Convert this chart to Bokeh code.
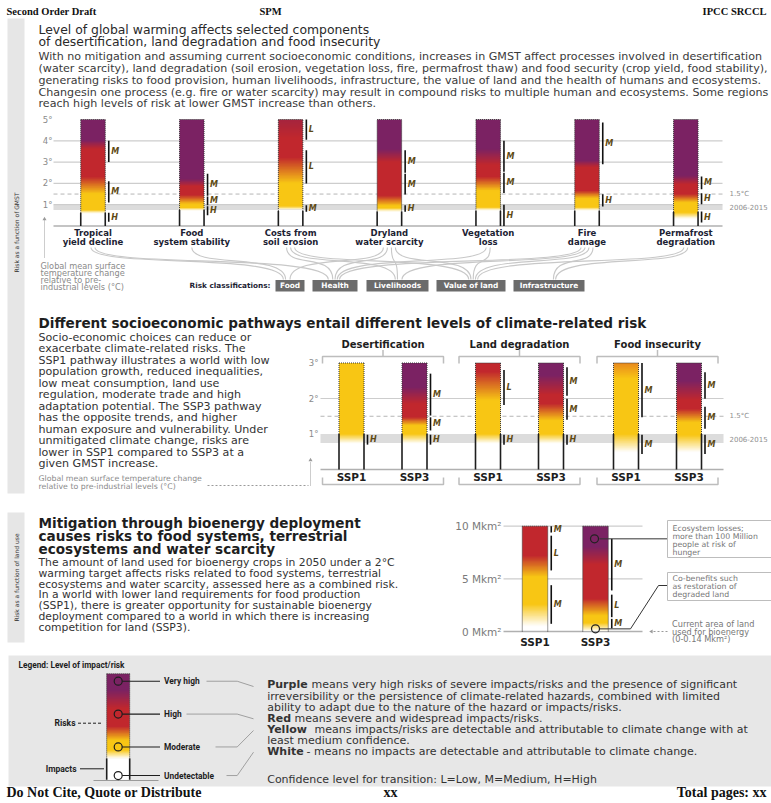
import numpy as np
from bokeh.plotting import figure
from bokeh.models import Range1d
from bokeh.core.properties import value
from bokeh.embed import file_html
from bokeh.resources import INLINE

# ------------------------------------------------------------------ colours
PURPLE = "#7b2263"
RED = "#c1272d"
DKRED = "#a3243f"
ORANGE = "#e8891d"
YELLOW = "#f8c614"
WHITE = "#ffffff"

# ------------------------------------------------------------------ panel 1 data (GMST, °C)
P1_LABELS = [("Tropical", "yield decline"), ("Food", "system stability"), ("Costs from", "soil erosion"),
             ("Dryland", "water scarcity"), ("Vegetation", "loss"), ("Fire", "damage"),
             ("Permafrost", "degradation")]
P1_TOP = 5.0
P1_STOPS = [
    [(5.0, PURPLE), (4.0, PURPLE), (3.6, RED), (2.3, RED), (1.5, YELLOW), (0.75, YELLOW), (0.6, WHITE)],
    [(5.0, PURPLE), (2.2, PURPLE), (1.85, RED), (1.45, RED), (1.02, YELLOW), (0.85, YELLOW), (0.74, WHITE)],
    [(5.0, DKRED), (4.1, RED), (3.2, RED), (2.0, YELLOW), (0.92, YELLOW), (0.78, WHITE)],
    [(5.0, PURPLE), (3.6, PURPLE), (3.0, RED), (1.42, RED), (0.95, YELLOW), (0.85, YELLOW), (0.68, WHITE)],
    [(5.0, PURPLE), (3.6, PURPLE), (2.85, RED), (2.3, RED), (1.65, YELLOW), (0.87, YELLOW), (0.74, WHITE)],
    [(5.0, PURPLE), (3.06, PURPLE), (2.75, RED), (1.65, RED), (1.3, YELLOW), (0.87, YELLOW), (0.74, WHITE)],
    [(5.0, PURPLE), (2.36, PURPLE), (1.96, RED), (1.49, RED), (1.1, YELLOW), (0.63, YELLOW), (0.35, WHITE)],
]
P1_IMPACT_TOP = [0.62, 0.75, 0.7, 0.68, 0.72, 0.72, 0.66]
P1_CONF = [
    [(4.0, 3.0, "M"), (2.1, 1.1, "M"), (0.62, 0.2, "H")],
    [(2.45, 1.42, "M"), (1.38, 0.97, "M"), (0.93, 0.5, "H")],
    [(5.0, 4.05, "L"), (3.56, 2.0, "L"), (0.98, 0.67, "M")],
    [(3.56, 2.5, "M"), (2.45, 1.48, "M"), (0.97, 0.67, "H")],
    [(4.0, 2.55, "M"), (2.5, 1.55, "M"), (1.0, 0.0, "H")],
    [(4.86, 2.9, "M"), (1.49, 0.92, "H")],
    [(2.32, 1.73, "M"), (1.54, 1.02, "H"), (0.68, 0.16, "H")],
]
P1_TICKS = [1, 2, 3, 4, 5]
P1_TICK_LABELS = ["1°", "2°", "3°", "4°", "5°"]
P1_GRID = [1, 2, 3, 4]
RECENT_BAND = (0.75, 1.0)      # 2006-2015
RECENT_LEVEL = 0.87
TARGET_LEVEL = 1.5
RISK_CLASSES = ["Food", "Health", "Livelihoods", "Value of land", "Infrastructure"]
P1_LINKS = [["Food", "Health"], ["Food"], ["Health", "Livelihoods", "Value of land"],
            ["Food", "Health", "Livelihoods", "Value of land"], ["Health", "Value of land"],
            ["Health", "Livelihoods", "Value of land", "Infrastructure"], ["Value of land", "Infrastructure"]]

# ------------------------------------------------------------------ panel 2 data (GMST, °C)
P2_GROUPS = ["Desertification", "Land degradation", "Food insecurity"]
P2_SCEN = ["SSP1", "SSP3"]
P2_TOP = 3.0
P2_STOPS = [
    [(3.0, YELLOW), (1.0, YELLOW), (0.74, WHITE)],
    [(3.0, PURPLE), (2.32, PURPLE), (1.85, RED), (1.47, RED), (1.24, YELLOW), (1.0, YELLOW), (0.74, WHITE)],
    [(3.0, RED), (2.75, RED), (1.95, YELLOW), (1.0, YELLOW), (0.74, WHITE)],
    [(3.0, PURPLE), (2.65, PURPLE), (2.1, RED), (1.85, RED), (1.38, YELLOW), (1.0, YELLOW), (0.74, WHITE)],
    [(3.0, ORANGE), (2.55, YELLOW), (1.0, YELLOW), (0.49, WHITE)],
    [(3.0, PURPLE), (2.5, PURPLE), (1.95, RED), (1.7, RED), (1.33, YELLOW), (0.97, YELLOW), (0.49, WHITE)],
]
P2_IMPACT_TOP = [1.0, 1.0, 1.0, 1.0, 1.0, 1.0]
P2_CONF = [
    [(0.98, 0.7, "H")],
    [(2.7, 1.52, "M"), (1.47, 1.1, "M"), (0.98, 0.7, "H")],
    [(2.8, 1.82, "L"), (0.98, 0.7, "H")],
    [(2.88, 2.08, "M"), (1.99, 1.4, "M"), (0.98, 0.7, "H")],
    [(3.0, 1.47, "M"), (0.98, 0.44, "M")],
    [(2.74, 1.99, "M"), (1.77, 1.15, "M"), (0.98, 0.44, "M")],
]
P2_TICKS = [1, 2, 3]
P2_TICK_LABELS = ["1°", "2°", "3°"]
P2_GRID = [2]

# ------------------------------------------------------------------ panel 3 data (land area, Mkm²)
P3_SCEN = ["SSP1", "SSP3"]
P3_TOP = 10.0
P3_STOPS = [
    [(10.0, RED), (7.2, RED), (5.2, YELLOW), (2.6, YELLOW), (0.5, WHITE)],
    [(10.0, PURPLE), (8.0, PURPLE), (6.3, RED), (3.1, RED), (1.5, YELLOW), (0.8, YELLOW), (0.05, WHITE)],
]
P3_CONF = [
    [(10.0, 9.4, "M"), (9.1, 5.8, "L"), (4.4, 0.73, "M")],
    [(8.8, 3.9, "M"), (3.5, 1.36, "L"), (1.2, 0.3, "M")],
]
P3_TICKS = [0, 5, 10]
P3_TICK_LABELS = ["0 Mkm²", "5 Mkm²", "10 Mkm²"]
P3_MARKS = [8.8, 0.25]
P3_NOTES = [["Ecosystem losses;", "more than 100 Million", "people at risk of", "hunger"],
            ["Co-benefits such", "as restoration of", "degraded land"]]
P3_CURRENT = ["Current area of land", "used for bioenergy", "(0-0.14 Mkm²)"]

# ------------------------------------------------------------------ legend data
LEG_STOPS = [(1.0, PURPLE), (0.84, PURPLE), (0.67, RED), (0.5, RED), (0.37, YELLOW), (0.28, YELLOW), (0.2, WHITE)]
LEG_IMPACT_TOP = 0.2
LEG_LEVELS = ["Very high", "High", "Moderate", "Undetectable"]
LEG_LEVEL_POS = [0.93, 0.62, 0.31, 0.04]

# ------------------------------------------------------------------ texts
P1_TITLE = ["Level of global warming affects selected components",
            "of desertification, land degradation and food insecurity"]
P1_BODY = [
    "With no mitigation and assuming current socioeconomic conditions, increases in GMST affect processes involved in desertification",
    "(water scarcity), land degradation (soil erosion, vegetation loss, fire, permafrost thaw) and food security (crop yield, food stability),",
    "generating risks to food provision, human livelihoods, infrastructure, the value of land and the health of humans and ecosystems.",
    "Changesin one process (e.g. fire or water scarcity) may result in compound risks to multiple human and ecosystems. Some regions",
    "reach high levels of risk at lower GMST increase than others.",
]
P2_TITLE = "Different socioeconomic pathways entail different levels of climate-related risk"
P2_BODY = [
    "Socio-economic choices can reduce or",
    "exacerbate climate-related risks. The",
    "SSP1 pathway illustrates a world with low",
    "population growth, reduced inequalities,",
    "low meat consumption, land use",
    "regulation, moderate trade and high",
    "adaptation potential. The SSP3 pathway",
    "has the opposite trends, and higher",
    "human exposure and vulnerability. Under",
    "unmitigated climate change, risks are",
    "lower in SSP1 compared to SSP3 at a",
    "given GMST increase.",
]
P3_TITLE = ["Mitigation through bioenergy deployment",
            "causes risks to food systems, terrestrial",
            "ecosystems and water scarcity"]
P3_BODY = [
    "The amount of land used for bioenergy crops in 2050 under a 2°C",
    "warming target affects risks related to food systems, terrestrial",
    "ecosystems and water scarcity, assessed here as a combined risk.",
    "In a world with lower land requirements for food production",
    "(SSP1), there is greater opportunity for sustainable bioenergy",
    "deployment compared to a world in which there is increasing",
    "competition for land (SSP3).",
]
GMST_NOTE = ["Global mean surface", "temperature change", "relative to pre-", "industrial levels (°C)"]
GMST_NOTE2 = ["Global mean surface temperature change", "relative to pre-industrial levels (°C)"]
LEG_TEXT = [
    ("Purple", "means very high risks of severe impacts/risks and the presence of significant"),
    ("", "irreversibility or the persistence of climate-related hazards, combined with limited"),
    ("", "ability to adapt due to the nature of the hazard or impacts/risks."),
    ("Red", "means severe and widespread impacts/risks."),
    ("Yellow", "means impacts/risks are detectable and attributable to climate change with at"),
    ("", "least medium confidence."),
    ("White", "- means no impacts are detectable and attributable to climate change."),
]
LEG_CONF = "Confidence level  for transition: L=Low, M=Medium, H=High"

# ------------------------------------------------------------------ figure (data units = page pixels)
FIG_W, FIG_H = 771, 803
p = figure(width=FIG_W, height=FIG_H, output_backend="svg", toolbar_location=None,
           x_range=Range1d(0, FIG_W), y_range=Range1d(FIG_H, 0),
           x_axis_location=None, y_axis_location=None, min_border=0)
p.grid.visible = False
p.outline_line_color = None
p.background_fill_color = "white"
p.border_fill_color = "white"


def make_scale(v_a, y_a, v_b, y_b):
    k = (y_b - y_a) / (v_b - v_a)
    v_top = v_a + (0 - y_a) / k
    v_bot = v_a + (FIG_H - y_a) / k
    return Range1d(start=v_bot, end=v_top), (lambda v: y_a + (v - v_a) * k)


r1, px1 = make_scale(0, 225.5, 5, 119.0)
r2, px2 = make_scale(0, 469.0, 3, 362.5)
r3, px3 = make_scale(0, 631.0, 10, 525.7)
r4, px4 = make_scale(0, 779.3, 1, 673.3)
p.extra_y_ranges = {"g1": r1, "g2": r2, "lu": r3, "lg": r4}

SANS = "DejaVu Sans"
CONF_COLOR = "#5e4a14"


def txt(x, y, s, size, color="#333333", font=SANS, style="normal", align="left",
        baseline="middle", angle=0.0, rng="default"):
    xs = x if isinstance(x, list) else [x]
    ys = y if isinstance(y, list) else [y]
    ss = s if isinstance(s, list) else [s]
    if len(xs) == 1 and len(ss) > 1:
        xs = xs * len(ss)
    if len(ys) == 1 and len(ss) > 1:
        ys = ys * len(ss)
    p.text(x=xs, y=ys, text=ss, text_font=value(font), text_font_size=f"{size}px",
           text_font_style=style, text_color=color, text_align=align, text_baseline=baseline,
           angle=angle, y_range_name=rng)


def gradient_bar(cx, w, stops, rng, rows):
    lv = np.array([s[0] for s in stops], float)[::-1]
    rgb = np.array([[int(c[i:i + 2], 16) for i in (1, 3, 5)] for _, c in stops], float)[::-1]
    lo, hi = lv[0], lv[-1]
    mids = lo + (np.arange(rows) + 0.5) * (hi - lo) / rows
    img = np.empty((rows, 1), dtype=np.uint32)
    view = img.view(dtype=np.uint8).reshape((rows, 1, 4))
    for k in range(3):
        view[:, 0, k] = np.round(np.interp(mids, lv, rgb[:, k])).astype(np.uint8)
    view[:, 0, 3] = 255
    p.image_rgba(image=[img], x=cx - w / 2, y=lo, dw=w, dh=hi - lo, y_range_name=rng)


def bar_frame(cx, w, top, impact_top, rng):
    l, r = cx - w / 2, cx + w / 2
    p.multi_line(xs=[[l, l], [r, r], [l, r]], ys=[[impact_top, top], [impact_top, top], [top, top]],
                 line_color="#3a3a3a", line_dash="1 1", line_width=1, y_range_name=rng)
    if impact_top > 0:
        p.segment(x0=[l, r], y0=[0, 0], x1=[l, r], y1=[impact_top, impact_top],
                  line_color="#1e1e1e", line_width=1.6, y_range_name=rng)


def confidence(cx, w, items, rng, size=8):
    x = cx + w / 2 + 3.5
    tops = [a for a, b, s in items]
    bots = [b for a, b, s in items]
    lets = [s for a, b, s in items]
    n = len(items)
    p.segment(x0=[x] * n, y0=tops, x1=[x] * n, y1=bots, line_color="#111111",
              line_width=1.6, y_range_name=rng)
    p.text(x=[x + 2.5] * n, y=[(a + b) / 2 for a, b in zip(tops, bots)], text=lets,
           text_font=value(SANS), text_font_size=f"{size}px", text_font_style="bold italic",
           text_color=CONF_COLOR, text_align="left", text_baseline="middle", y_range_name=rng)


# ------------------------------------------------------------------ page furniture
SERIF = "Liberation Serif"
txt(6, 10.5, "Second Order Draft", 10.5, "#111111", SERIF, "bold")
txt(270, 10.5, "SPM", 10.5, "#111111", SERIF, "bold", "center")
txt(766, 10.5, "IPCC SRCCL", 10.5, "#111111", SERIF, "bold", "right")
txt(6, 792, "Do Not Cite, Quote or Distribute", 14, "#111111", SERIF, "bold", baseline="alphabetic")
txt(390, 792, "xx", 14, "#111111", SERIF, "bold", "center", baseline="alphabetic")
txt(766, 792, "Total pages: xx", 14, "#111111", SERIF, "bold", "right", baseline="alphabetic")

# side strips & legend background
p.quad(left=[7, 7], right=[24, 24], top=[18, 512], bottom=[493, 642], fill_color="#e6e6e6", line_color=None)
p.quad(left=8, right=FIG_W, top=655, bottom=786, fill_color="#e7e7e7", line_color=None)
txt(15.5, 232, "Risk as a function of GMST", 6, "#333333", angle=np.pi / 2, align="center")
txt(15.5, 577, "Risk as a function of land use", 6, "#333333", angle=np.pi / 2, align="center")

# ------------------------------------------------------------------ panel 1
txt(38, [29, 41], P1_TITLE, 12.4, "#2a2a2a")
txt(38, [56, 68, 79.5, 91.5, 103], P1_BODY, 11.1, "#3a3a3a")

P1_X0, P1_X1 = 53, 722
p.quad(left=P1_X0, right=P1_X1, bottom=RECENT_BAND[0], top=RECENT_BAND[1], fill_color="#dcdcdc",
       line_color=None, y_range_name="g1")
p.segment(x0=[P1_X0] * len(P1_GRID), x1=[P1_X1] * len(P1_GRID), y0=P1_GRID, y1=P1_GRID,
          line_color="#cdcdcd", line_width=1.2, y_range_name="g1")
p.segment(x0=[P1_X0], x1=[P1_X1], y0=[TARGET_LEVEL], y1=[TARGET_LEVEL], line_color="#b5b5b5",
          line_dash="4 3", line_width=1, y_range_name="g1")
p.segment(x0=[P1_X0], x1=[P1_X1], y0=[0], y1=[0], line_color="#b0b0b0", line_width=1.5, y_range_name="g1")
txt(52, P1_TICKS, P1_TICK_LABELS, 8.5, "#8a8a8a", align="right", rng="g1")
txt(729, [TARGET_LEVEL, RECENT_LEVEL], ["1.5°C", "2006-2015"], 7, "#8f8f8f", rng="g1")

P1_W = 24.5
p1_cx = [92.5 + 98.8 * i for i in range(len(P1_LABELS))]
for i, cx in enumerate(p1_cx):
    gradient_bar(cx, P1_W, P1_STOPS[i], "g1", 240)
    bar_frame(cx, P1_W, P1_TOP, P1_IMPACT_TOP[i], "g1")
    confidence(cx, P1_W, P1_CONF[i], "g1")
    txt(cx, [232.5, 241], list(P1_LABELS[i]), 8.5, "#1c2233", style="bold", align="center")

# gmst note + arrow
p.segment(x0=[44], y0=[220], x1=[44], y1=[257], line_color="#9a9a9a", line_dash="1 1", line_width=1)
p.scatter(x=[44], y=[218.5], marker="triangle", size=4, fill_color="#9a9a9a", line_color=None)
txt(40, [265, 272.3, 279.6, 286.8], GMST_NOTE, 8.2, "#8a8a8a")

# risk classifications
BOX_L = [275, 312, 366, 436, 513]
BOX_R = [304, 357, 428, 505, 584]
box_c = {name: (l + r) / 2 for name, l, r in zip(RISK_CLASSES, BOX_L, BOX_R)}
xs0, ys0, xs1, ys1, cx0, cy0, cx1, cy1 = [], [], [], [], [], [], [], []
for i, links in enumerate(P1_LINKS):
    n = len(links)
    for k, name in enumerate(links):
        sx = p1_cx[i] + (k - (n - 1) / 2) * 4
        ex = box_c[name] + (i - 3) * 2.2
        xs0.append(sx); ys0.append(247); xs1.append(ex); ys1.append(279)
        cx0.append(sx); cy0.append(268); cx1.append(ex); cy1.append(252)
p.bezier(x0=xs0, y0=ys0, x1=xs1, y1=ys1, cx0=cx0, cy0=cy0, cx1=cx1, cy1=cy1,
         line_color="#c8c8c8", line_width=1.1)
p.quad(left=BOX_L, right=BOX_R, top=[279.5] * 5, bottom=[291] * 5, fill_color="#6b6b6b", line_color=None)
txt([(l + r) / 2 for l, r in zip(BOX_L, BOX_R)], [285.3] * 5, RISK_CLASSES, 7.4, "white",
    style="bold", align="center")
txt(270, 285.3, "Risk classifications:", 7.3, "#1c2233", style="bold", align="right")

# ------------------------------------------------------------------ panel 2
txt(38, 322, P2_TITLE, 13.6, "#1e1e1e", style="bold")
txt(38, [337 + 11.45 * k for k in range(len(P2_BODY))], P2_BODY, 11.1, "#333333")
txt(38, [478, 485.5], GMST_NOTE2, 7.8, "#8a8a8a")
p.segment(x0=[207], y0=[485], x1=[308], y1=[485], line_color="#9a9a9a", line_dash="2 2", line_width=1)
p.segment(x0=[310], y0=[485], x1=[310], y1=[461], line_color="#9a9a9a", line_dash="1 1", line_width=1)
p.scatter(x=[310], y=[459.5], marker="triangle", size=4, fill_color="#9a9a9a", line_color=None)

P2_X0, P2_X1 = 320, 723
p.quad(left=P2_X0, right=P2_X1, bottom=RECENT_BAND[0], top=RECENT_BAND[1], fill_color="#dcdcdc",
       line_color=None, y_range_name="g2")
p.segment(x0=[P2_X0] * len(P2_GRID), x1=[P2_X1] * len(P2_GRID), y0=P2_GRID, y1=P2_GRID,
          line_color="#cdcdcd", line_width=1.2, y_range_name="g2")
p.segment(x0=[P2_X0], x1=[P2_X1], y0=[TARGET_LEVEL], y1=[TARGET_LEVEL], line_color="#b5b5b5",
          line_dash="4 3", line_width=1, y_range_name="g2")
p.segment(x0=[P2_X0], x1=[P2_X1], y0=[0], y1=[0], line_color="#b0b0b0", line_width=1.5, y_range_name="g2")
txt(318, P2_TICKS, P2_TICK_LABELS, 8.5, "#8a8a8a", align="right", rng="g2")
txt(729, [TARGET_LEVEL, RECENT_LEVEL], ["1.5°C", "2006-2015"], 7, "#8f8f8f", rng="g2")

P2_W = 25
grp_c = [382.5, 519.0, 657.0]
half = 60.5
for g, gc in enumerate(grp_c):
    l, r = gc - half, gc + half
    p.multi_line(xs=[[l, l, r, r], [gc, gc], [l, l, r, r]],
                 ys=[[363, 356, 356, 363], [356, 349.5], [477, 484, 484, 477]],
                 line_color="#bdbdbd", line_width=1.5)
    txt(gc, 343.5, P2_GROUPS[g], 10, "#1e1e1e", style="bold", align="center")
    for s in range(2):
        j = 2 * g + s
        cx = gc + (s - 0.5) * 63
        gradient_bar(cx, P2_W, P2_STOPS[j], "g2", 220)
        bar_frame(cx, P2_W, P2_TOP, P2_IMPACT_TOP[j], "g2")
        confidence(cx, P2_W, P2_CONF[j], "g2")
        txt(cx, 476, P2_SCEN[s], 10.5, "#1e1e1e", style="bold", align="center")

# ------------------------------------------------------------------ panel 3
txt(38, [522, 535, 548], P3_TITLE, 13.6, "#1e1e1e", style="bold")
txt(38, [561.7, 572.5, 583.5, 594.3, 605, 616, 627], P3_BODY, 10.8, "#333333")

P3_X0, P3_X1 = 503, 642
p.segment(x0=[P3_X0] * 2, x1=[P3_X1] * 2, y0=P3_TICKS[1:], y1=P3_TICKS[1:], line_color="#cdcdcd",
          line_width=1.2, y_range_name="lu")
p.segment(x0=[P3_X0], x1=[P3_X1], y0=[0], y1=[0], line_color="#b0b0b0", line_width=1.5, y_range_name="lu")
txt(501, P3_TICKS, P3_TICK_LABELS, 10.5, "#7a7a7a", align="right", rng="lu")
P3_W = 25.5
p3_cx = [534.5, 595.0]
for i, cx in enumerate(p3_cx):
    gradient_bar(cx, P3_W, P3_STOPS[i], "lu", 220)
    bar_frame(cx, P3_W, P3_TOP, 0, "lu")
    confidence(cx, P3_W, P3_CONF[i], "lu")
    txt(cx, 641, P3_SCEN[i], 10.5, "#1e1e1e", style="bold", align="center")

# callouts
m_hi, m_lo = (float(px3(v)) for v in P3_MARKS)
p.multi_line(xs=[[p3_cx[1] + 4, 667], [p3_cx[1] + 4, 630, 658, 667]],
             ys=[[m_hi, m_hi], [m_lo, m_lo, 585, 585]], line_color="#333333", line_width=1)
p.scatter(x=[p3_cx[1] - 1, p3_cx[1]], y=P3_MARKS, marker="circle", size=8, fill_color=None,
          line_color="#222222", line_width=1.2, y_range_name="lu")
p.quad(left=[667, 667], right=[780, 780], top=[520, 572], bottom=[557, 600], fill_color="white",
       line_color="#bdbdbd", line_width=1)
txt(672, [527.5, 535.5, 543.5, 551.5], P3_NOTES[0], 7.8, "#777777")
txt(672, [578, 586, 594], P3_NOTES[1], 7.8, "#777777")
txt(671.5, [623.5, 631, 638.5], P3_CURRENT, 8.2, "#777777")
p.segment(x0=[653], y0=[631], x1=[668], y1=[631], line_color="#9a9a9a", line_dash="2 2", line_width=1)
p.scatter(x=[651], y=[631], marker="triangle", angle=np.pi / 2, size=4, fill_color="#9a9a9a", line_color=None)

# ------------------------------------------------------------------ legend
txt(18, 664, "Legend: Level of impact/risk", 8.3, "#1e1e1e", "Roboto", "bold")
LEG_CX, LEG_W = 117.7, 23
gradient_bar(LEG_CX, LEG_W, LEG_STOPS, "lg", 200)
p.quad(left=LEG_CX - LEG_W / 2, right=LEG_CX + LEG_W / 2, bottom=0, top=LEG_IMPACT_TOP,
       fill_color="white", line_color=None, y_range_name="lg")
bar_frame(LEG_CX, LEG_W, 1.0, LEG_IMPACT_TOP, "lg")
p.segment(x0=[93], y0=[780], x1=[158], y1=[780], line_color="#9a9a9a", line_width=1)
p.segment(x0=[LEG_CX + 4] * 4, y0=LEG_LEVEL_POS, x1=[159.5] * 4, y1=LEG_LEVEL_POS,
          line_color="#1e1e1e", line_width=1.1, y_range_name="lg")
p.scatter(x=[LEG_CX] * 4, y=LEG_LEVEL_POS, marker="circle", size=8, fill_color=None,
          line_color="#1e1e1e", line_width=1.2, y_range_name="lg")
txt(163.5, LEG_LEVEL_POS, LEG_LEVELS, 8.4, "#1e1e1e", "Roboto", "bold", rng="lg")
lab_end = [206, 186, 215, 226]
txt_y = [686, 718.3, 730, 751.7]
p.multi_line(xs=[[e, 236.7, 253] for e in lab_end],
             ys=[[float(px4(v)), float(px4(v)), ty] for v, ty in zip(LEG_LEVEL_POS, txt_y)],
             line_color="#a0a0a0", line_width=1)
txt(75, 722.7, "Risks", 8.5, "#1e1e1e", "Roboto", "bold", align="right")
p.segment(x0=[77.5], y0=[722.7], x1=[102], y1=[722.7], line_color="#1e1e1e", line_dash="3 2", line_width=1)
txt(76, 768.3, "Impacts", 8.5, "#1e1e1e", "Roboto", "bold", align="right")
p.segment(x0=[79.5], y0=[768.3], x1=[103.5], y1=[768.3], line_color="#1e1e1e", line_width=1)

leg_y = [684.3, 695.7, 706.8, 718.3, 729.3, 740, 751]
rest_x = {"Purple": 311, "Red": 294, "Yellow": 314, "White": 306, "": 266.7}
for (b, rest), y in zip(LEG_TEXT, leg_y):
    if b:
        txt(266.7, y, b, 11, "#333333", style="bold")
    txt(rest_x[b], y, rest, 11, "#333333")
txt(266.7, 778.5, LEG_CONF, 11, "#333333")

open("out.html", "w").write(file_html(p, INLINE))
